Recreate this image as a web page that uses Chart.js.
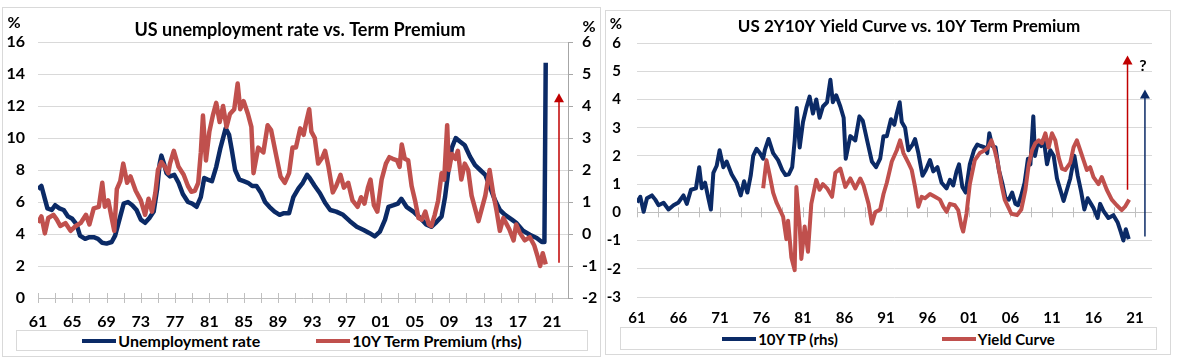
<!DOCTYPE html>
<html>
<head>
<meta charset="utf-8">
<script src="https://cdn.jsdelivr.net/npm/chart.js@4.4.1/dist/chart.umd.min.js"></script>
<style>
  body { margin: 0; background: #fff; width: 1177px; height: 362px; position: relative; overflow: hidden; font-family: Lato, sans-serif; }
  .panel { position: absolute; border: 1px solid #d9d9d9; box-sizing: border-box; background: #fff; }
  #leftPanel { left: 2px; top: 7px; width: 599px; height: 350px; }
  #rightPanel { left: 605px; top: 10px; width: 566px; height: 345px; }
  canvas { position: absolute; left: 0; top: 0; }
  .legend { position: absolute; border: 1px solid #d9d9d9; box-sizing: border-box; display: flex; justify-content: center; align-items: center; font-weight: bold; color: #000; }
  .item { display: flex; align-items: center; white-space: nowrap; }
  .swatch { display: inline-block; height: 4px; width: 34px; margin-right: 2px; }
</style>
</head>
<body>
<div class="panel" id="leftPanel">
  <canvas id="leftChart" width="596" height="322"></canvas>
  <div class="legend" id="leftLegend" style="left:13px; top:322px; width:572px; height:21px; font-size:16px; gap:56px;"></div>
</div>
<div class="panel" id="rightPanel">
  <canvas id="rightChart" width="564" height="316"></canvas>
  <div class="legend" id="rightLegend" style="left:14px; top:316px; width:537px; height:23px; font-size:15px; gap:104px;"></div>
</div>
<script>
// US unemployment rate, %
const unempYears = [1961.0,1961.4,1961.8,1962.1,1962.6,1963.0,1963.5,1964.0,1964.5,1965.0,1965.5,1965.9,1966.5,1967.0,1967.5,1968.0,1968.5,1969.0,1969.6,1970.0,1970.5,1971.0,1971.5,1972.0,1972.5,1973.0,1973.5,1974.0,1974.5,1974.9,1975.2,1975.4,1975.7,1976.0,1976.4,1976.9,1977.4,1977.9,1978.5,1979.0,1979.5,1980.0,1980.4,1980.8,1981.3,1981.8,1982.3,1982.9,1983.3,1983.6,1984.0,1984.5,1985.0,1985.5,1986.0,1986.5,1987.0,1987.5,1988.0,1988.6,1989.2,1989.7,1990.3,1990.8,1991.4,1991.9,1992.4,1992.7,1993.3,1993.9,1994.5,1995.1,1995.8,1996.6,1997.4,1998.2,1999.0,1999.7,2000.3,2000.9,2001.5,2001.9,2002.5,2003.0,2003.4,2004.0,2004.8,2005.6,2006.3,2006.9,2007.5,2008.1,2008.5,2008.9,2009.3,2009.75,2010.2,2010.8,2011.4,2012.0,2012.6,2013.2,2013.7,2014.3,2014.9,2015.5,2016.3,2016.8,2017.6,2018.4,2019.2,2019.8,2020.1,2020.25];
const unempValues = [6.8,7.0,6.2,5.6,5.5,5.8,5.6,5.5,5.1,4.95,4.6,3.9,3.7,3.8,3.8,3.7,3.45,3.4,3.5,3.9,4.9,5.9,6.0,5.8,5.5,4.9,4.7,5.0,5.4,6.8,8.4,8.9,8.4,7.8,7.6,7.7,7.2,6.5,6.0,5.9,5.7,6.3,7.5,7.4,7.3,8.2,9.4,10.6,10.2,9.3,8.0,7.4,7.3,7.2,7.0,7.0,6.6,6.0,5.7,5.4,5.2,5.3,5.3,6.3,6.85,7.2,7.7,7.5,7.0,6.55,5.95,5.5,5.4,5.2,4.8,4.45,4.25,4.05,3.85,4.15,4.9,5.7,5.8,5.9,6.2,5.7,5.4,5.0,4.6,4.45,4.75,5.1,6.3,8.0,9.4,10.0,9.8,9.55,8.85,8.3,8.0,7.7,7.0,6.15,5.5,5.2,4.9,4.7,4.2,3.95,3.75,3.5,3.5,14.7];

// 10Y term premium, % (used in both panels)
const tpYears = [1961.0,1961.4,1961.8,1962.2,1962.8,1963.2,1963.6,1964.2,1964.8,1965.4,1966.0,1966.6,1967.0,1967.5,1968.1,1968.5,1968.8,1969.2,1969.6,1969.9,1970.2,1970.6,1970.95,1971.4,1971.8,1972.4,1973.0,1973.5,1973.9,1974.3,1974.7,1975.0,1975.4,1975.8,1976.2,1976.4,1976.85,1977.4,1978.0,1978.5,1978.9,1979.3,1979.7,1980.0,1980.25,1980.6,1981.0,1981.4,1981.8,1982.2,1982.6,1983.0,1983.4,1983.9,1984.3,1984.6,1985.0,1985.5,1985.9,1986.15,1986.7,1987.3,1987.8,1988.2,1988.8,1989.3,1989.8,1990.3,1990.7,1991.1,1991.6,1992.0,1992.3,1992.65,1992.9,1993.3,1993.7,1994.2,1994.5,1994.9,1995.4,1995.8,1996.3,1996.7,1997.2,1997.7,1998.3,1998.7,1999.1,1999.5,1999.8,2000.2,2000.6,2001.1,2001.6,2002.0,2002.4,2002.9,2003.2,2003.45,2003.8,2004.2,2004.6,2005.0,2005.4,2005.8,2006.2,2006.6,2006.9,2007.3,2007.7,2008.1,2008.4,2008.75,2008.95,2009.3,2009.7,2010.0,2010.4,2010.8,2011.2,2011.6,2012.0,2012.4,2012.8,2013.2,2013.7,2014.1,2014.5,2014.9,2015.3,2015.7,2016.0,2016.5,2016.8,2017.2,2017.8,2018.4,2018.9,2019.3,2019.6,2019.9,2020.25];
const tpValues = [0.35,0.55,0.02,0.5,0.6,0.45,0.25,0.34,0.1,0.25,0.35,0.6,0.3,0.8,0.85,1.6,0.85,1.05,0.5,0.1,1.4,1.65,2.2,1.6,1.8,1.35,1.05,0.6,1.1,0.7,1.3,2.0,2.25,2.1,1.9,2.2,2.6,2.1,1.85,1.5,1.32,1.35,1.6,2.55,3.7,2.3,3.2,3.7,4.1,3.5,4.0,3.35,3.75,3.9,4.7,3.9,4.15,3.75,3.35,1.9,2.7,2.55,3.4,3.25,2.45,1.8,1.6,1.9,2.7,2.7,3.3,3.1,3.5,3.9,3.2,3.0,2.2,2.4,2.6,2.1,1.3,1.5,1.85,1.45,1.6,1.05,0.85,1.15,0.95,1.45,1.7,0.9,0.7,1.7,2.2,2.4,2.35,2.3,2.1,2.8,2.35,2.3,1.5,1.05,0.5,0.45,0.7,0.3,0.25,0.6,1.05,1.9,1.7,3.4,2.0,2.5,2.35,2.6,1.7,2.2,2.0,1.2,0.8,0.4,0.8,1.2,2.0,1.3,0.75,0.1,0.5,0.3,0.15,-0.2,0.3,0.05,-0.2,-0.1,-0.35,-0.7,-1.0,-0.6,-0.95];

// US 2Y10Y yield curve, %
const ycYears = [1976.2,1976.6,1977.0,1977.4,1977.8,1978.2,1978.6,1979.0,1979.2,1979.6,1980.0,1980.2,1980.6,1980.8,1981.2,1981.6,1982.0,1982.6,1983.0,1983.4,1983.9,1984.5,1984.9,1985.5,1986.1,1986.7,1987.3,1987.9,1988.3,1988.9,1989.3,1989.7,1990.3,1990.7,1991.1,1991.7,1992.3,1992.7,1993.1,1993.7,1994.1,1994.5,1994.9,1995.3,1995.7,1996.3,1996.9,1997.5,1997.9,1998.3,1998.7,1999.3,1999.7,2000.1,2000.3,2000.7,2001.1,2001.7,2002.3,2002.9,2003.3,2003.7,2004.1,2004.5,2004.9,2005.3,2005.7,2006.1,2006.8,2007.3,2007.8,2008.2,2008.6,2009.0,2009.4,2009.8,2010.2,2010.6,2011.0,2011.4,2011.8,2012.2,2012.6,2013.2,2013.6,2014.0,2014.4,2014.8,2015.2,2015.6,2016.0,2016.6,2017.0,2017.6,2018.2,2018.8,2019.4,2019.8,2020.3];
const ycValues = [0.85,1.85,1.3,0.7,0.35,0.1,-0.15,-0.95,-0.3,-1.6,-2.05,0.9,-0.5,-1.65,-0.5,-1.4,0.3,1.15,0.8,1.0,0.85,0.55,1.4,1.55,0.9,1.2,0.85,1.2,0.95,0.3,-0.4,0.0,0.1,0.65,1.05,1.8,2.2,2.55,2.1,1.75,1.5,0.9,0.2,0.55,0.5,0.65,0.55,0.45,0.2,0.02,0.3,0.25,0.08,-0.5,-0.68,-0.05,1.0,1.85,2.1,2.2,2.3,2.55,2.2,1.7,1.0,0.45,0.2,-0.05,-0.1,0.1,0.8,1.7,2.2,2.45,2.55,2.45,2.8,2.3,2.8,2.55,1.95,1.55,1.5,1.75,2.3,2.55,2.2,1.85,1.5,1.6,1.25,1.0,1.25,0.8,0.45,0.25,0.08,0.2,0.45];

const NAVY = '#0b2a66';
const RED = '#c0504d';
const DARKRED = '#c00000';
const FONT = 'Lato, sans-serif';

const toPoints = (xs, ys) => xs.map((x, i) => ({ x: x, y: ys[i] }));
const yearLabel = v => String(Math.round(v) % 100).padStart(2, '0');

// ticks placed every `step` years starting at 1961
function yearTicks(step, last) {
  return scale => {
    const t = [];
    for (let v = 1961; v <= last + 0.001; v += step) t.push({ value: v });
    scale.ticks = t;
  };
}

// title and "%" unit marks
const panelText = {
  id: 'panelText',
  afterDraw(chart, args, opts) {
    const ctx = chart.ctx;
    ctx.save();
    ctx.fillStyle = '#000';
    ctx.textAlign = 'center';
    ctx.textBaseline = 'middle';
    ctx.font = 'bold ' + opts.titleSize + 'px ' + FONT;
    ctx.fillText(opts.title, opts.titleX, opts.titleY);
    ctx.font = 'bold ' + opts.unitSize + 'px ' + FONT;
    opts.units.forEach(u => ctx.fillText('%', u[0], u[1]));
    ctx.restore();
  }
};

// small tick marks crossing the category axis line
const crossTicks = {
  id: 'crossTicks',
  beforeDatasetsDraw(chart, args, opts) {
    const xs = chart.scales.x;
    const yPix = opts.atZero ? chart.scales.y.getPixelForValue(0) : chart.chartArea.bottom;
    const ctx = chart.ctx;
    ctx.save();
    ctx.strokeStyle = '#bfbfbf';
    ctx.lineWidth = 1;
    ctx.beginPath();
    xs.ticks.forEach(t => {
      const px = Math.round(xs.getPixelForValue(t.value)) + 0.5;
      ctx.moveTo(px, yPix - 5);
      ctx.lineTo(px, yPix + 5);
    });
    if (opts.atZero) {
      ctx.moveTo(chart.chartArea.left, Math.round(yPix) + 0.5);
      ctx.lineTo(chart.chartArea.right, Math.round(yPix) + 0.5);
    }
    ctx.stroke();
    ctx.restore();
  }
};

// hand drawn arrows and notes, given in data units
const arrows = {
  id: 'arrows',
  afterDatasetsDraw(chart, args, opts) {
    const ctx = chart.ctx;
    const xs = chart.scales.x;
    ctx.save();
    (opts.list || []).forEach(a => {
      const ys = chart.scales[a.axis];
      const x = xs.getPixelForValue(a.x);
      const y0 = ys.getPixelForValue(a.from);
      const y1 = ys.getPixelForValue(a.to);
      ctx.strokeStyle = a.color;
      ctx.fillStyle = a.color;
      ctx.lineWidth = 1.5;
      ctx.beginPath();
      ctx.moveTo(x, y0);
      ctx.lineTo(x, y1 + 8);
      ctx.stroke();
      ctx.beginPath();
      ctx.moveTo(x, y1);
      ctx.lineTo(x - 5, y1 + 9);
      ctx.lineTo(x + 5, y1 + 9);
      ctx.closePath();
      ctx.fill();
    });
    (opts.notes || []).forEach(n => {
      const ys = chart.scales[n.axis];
      ctx.fillStyle = '#000';
      ctx.font = 'bold 16px ' + FONT;
      ctx.textAlign = 'center';
      ctx.textBaseline = 'middle';
      ctx.fillText(n.text, xs.getPixelForValue(n.x), ys.getPixelForValue(n.y));
    });
    ctx.restore();
  }
};

function buildLegend(el, items) {
  items.forEach(it => {
    const d = document.createElement('div');
    d.className = 'item';
    const s = document.createElement('span');
    s.className = 'swatch';
    s.style.background = it.color;
    d.appendChild(s);
    d.appendChild(document.createTextNode(it.label));
    el.appendChild(d);
  });
}

const tickFont = size => ({ family: FONT, size: size, weight: 'bold' });

// ---------- left panel ----------
const leftChart = new Chart(document.getElementById('leftChart'), {
  type: 'line',
  data: {
    datasets: [
      { label: '10Y Term Premium (rhs)', data: toPoints(tpYears, tpValues), yAxisID: 'y1',
        borderColor: RED, borderWidth: 4.5, pointRadius: 0, borderJoinStyle: 'round', order: 0 },
      { label: 'Unemployment rate', data: toPoints(unempYears, unempValues), yAxisID: 'y',
        borderColor: NAVY, borderWidth: 4.5, pointRadius: 0, borderJoinStyle: 'round', order: 1 }
    ]
  },
  plugins: [panelText, crossTicks, arrows],
  options: {
    responsive: false,
    animation: false,
    events: [],
    layout: { padding: { top: 34, left: 0, right: 0, bottom: 0 } },
    scales: {
      x: {
        type: 'linear', min: 1961, max: 2022.85,
        afterBuildTicks: yearTicks(2, 2021),
        afterFit: s => { s.height = 32; },
        grid: { display: false, drawTicks: false },
        border: { display: true, color: '#bfbfbf' },
        ticks: { autoSkip: false, maxRotation: 0, padding: 14, color: '#000', font: tickFont(16),
          callback: v => ((Math.round(v) - 1961) % 4 === 0 ? yearLabel(v) : '') }
      },
      y: {
        position: 'left', min: 0, max: 16,
        afterFit: s => { s.width = 35; },
        grid: { color: '#d9d9d9', drawTicks: false },
        border: { display: false },
        ticks: { stepSize: 2, padding: 13, color: '#000', font: tickFont(16) }
      },
      y1: {
        position: 'right', min: -2, max: 6,
        afterFit: s => { s.width = 31; },
        grid: { drawOnChartArea: false, drawTicks: true, tickLength: 5, color: '#a6a6a6' },
        border: { display: true, color: '#a6a6a6' },
        ticks: { stepSize: 1, padding: 9, color: '#000', font: tickFont(16) }
      }
    },
    plugins: {
      legend: { display: false },
      tooltip: { enabled: false },
      panelText: { title: 'US unemployment rate vs. Term Premium', titleSize: 18, titleX: 297, titleY: 22,
        unitSize: 16, units: [[11, 15], [586, 19]] },
      crossTicks: { atZero: false },
      arrows: { list: [{ axis: 'y1', x: 2021.8, from: -0.9, to: 4.4, color: DARKRED }] }
    }
  }
});
buildLegend(document.getElementById('leftLegend'), [
  { label: 'Unemployment rate', color: NAVY },
  { label: '10Y Term Premium (rhs)', color: RED }
]);

// ---------- right panel ----------
const rightChart = new Chart(document.getElementById('rightChart'), {
  type: 'line',
  data: {
    datasets: [
      { label: 'Yield Curve', data: toPoints(ycYears, ycValues),
        borderColor: RED, borderWidth: 4, pointRadius: 0, borderJoinStyle: 'round', order: 0 },
      { label: '10Y TP (rhs)', data: toPoints(tpYears, tpValues),
        borderColor: NAVY, borderWidth: 4, pointRadius: 0, borderJoinStyle: 'round', order: 1 }
    ]
  },
  plugins: [panelText, crossTicks, arrows],
  options: {
    responsive: false,
    animation: false,
    events: [],
    layout: { padding: { top: 32, left: 0, right: 18, bottom: 0 } },
    scales: {
      x: {
        type: 'linear', min: 1961, max: 2023.05,
        afterBuildTicks: yearTicks(2.5, 2021),
        afterFit: s => { s.height = 30; },
        grid: { display: false, drawTicks: false },
        border: { display: false },
        ticks: { autoSkip: false, maxRotation: 0, padding: 12, color: '#000', font: tickFont(15),
          callback: v => (Math.abs((v - 1961) % 5) < 0.01 ? yearLabel(v) : '') }
      },
      y: {
        position: 'left', min: -3, max: 6,
        afterFit: s => { s.width = 31; },
        grid: { color: '#d9d9d9', drawTicks: false },
        border: { display: false },
        ticks: { stepSize: 1, padding: 16, color: '#000', font: tickFont(15) }
      }
    },
    plugins: {
      legend: { display: false },
      tooltip: { enabled: false },
      panelText: { title: 'US 2Y10Y Yield Curve vs. 10Y Term Premium', titleSize: 17, titleX: 303, titleY: 16,
        unitSize: 15, units: [[10, 13]] },
      crossTicks: { atZero: true },
      arrows: {
        list: [
          { axis: 'y', x: 2020.1, from: 0.8, to: 5.56, color: DARKRED },
          { axis: 'y', x: 2022.2, from: -0.86, to: 4.35, color: NAVY }
        ],
        notes: [{ axis: 'y', x: 2021.96, y: 5.2, text: '?' }]
      }
    }
  }
});
buildLegend(document.getElementById('rightLegend'), [
  { label: '10Y TP (rhs)', color: NAVY },
  { label: 'Yield Curve', color: RED }
]);
</script>
</body>
</html>
